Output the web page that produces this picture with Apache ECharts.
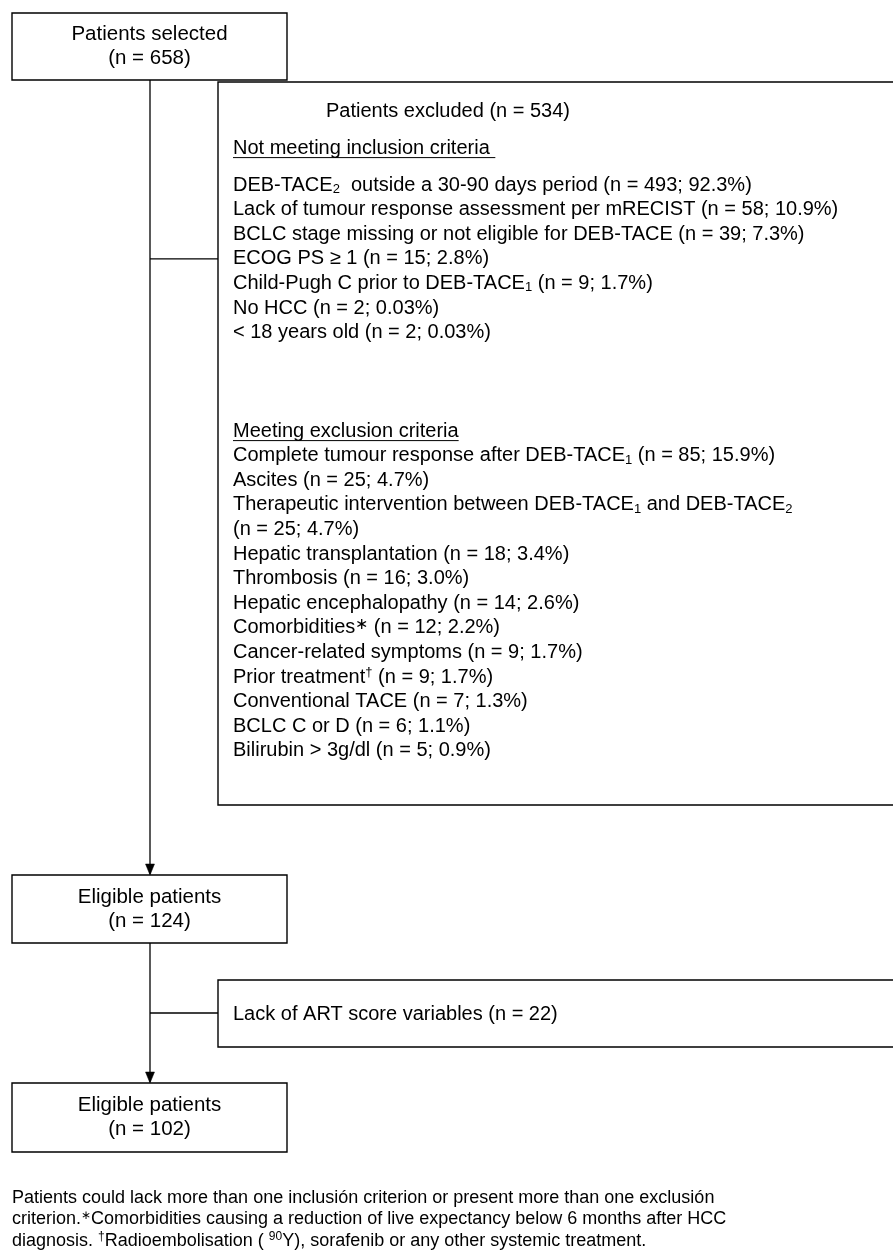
<!DOCTYPE html>
<html><head><meta charset="utf-8">
<script src="https://cdn.jsdelivr.net/npm/echarts@6/dist/echarts.min.js"></script>
<style>html,body{margin:0;padding:0;background:#fff}#c{width:893px;height:1252px}</style>
</head><body><div id="c"></div>
<script>
// ---------------- data ----------------
const stageTitles = ['Patients selected', 'Eligible patients', 'Eligible patients'];
const stageCounts = [658, 124, 102];
const excludedTitle = 'Patients excluded';
const excludedTotal = 534;
const inclusionHeading = 'Not meeting inclusion criteria';
const inclusionLabels = [
  'DEB-TACE{sub|2}  outside a 30-90 days period',
  'Lack of tumour response assessment per mRECIST',
  'BCLC stage missing or not eligible for DEB-TACE',
  'ECOG PS \u2265 1',
  'Child-Pugh C prior to DEB-TACE{sub|1}',
  'No HCC',
  '< 18 years old'
];
const inclusionN = [493, 58, 39, 15, 9, 2, 2];
const inclusionPct = [92.3, 10.9, 7.3, 2.8, 1.7, 0.03, 0.03];
const exclusionHeading = 'Meeting exclusion criteria';
const exclusionLabels = [
  'Complete tumour response after DEB-TACE{sub|1}',
  'Ascites',
  'Therapeutic intervention between DEB-TACE{sub|1} and DEB-TACE{sub|2}\n',
  'Hepatic transplantation',
  'Thrombosis',
  'Hepatic encephalopathy',
  'Comorbidities{ast|\u2217}',
  'Cancer-related symptoms',
  'Prior treatment{sup|\u2020}',
  'Conventional TACE',
  'BCLC C or D',
  'Bilirubin > 3g/dl'
];
const exclusionN = [85, 25, 25, 18, 16, 14, 12, 9, 9, 7, 6, 5];
const exclusionPct = [15.9, 4.7, 4.7, 3.4, 3.0, 2.6, 2.2, 1.7, 1.7, 1.3, 1.1, 0.9];
const scoreExclLabel = 'Lack of ART score variables';
const scoreExclN = 22;
const footnoteLines = [
  'Patients could lack more than one inclusi\u00f3n criterion or present more than one exclusi\u00f3n',
  'criterion.{sup|\u2217}Comorbidities causing a reduction of live expectancy below 6 months after HCC',
  'diagnosis. {sup|\u2020}Radioembolisation ( {sup|90}Y), sorafenib or any other systemic treatment.'
];

// ---------------- layout ----------------
const L = {
  W: 893, H: 1252,
  trunkX: 150, branchX: 218, stageLeft: 12, stageRight: 287,
  stages: [{top: 13, bottom: 80}, {top: 875, bottom: 943}, {top: 1083, bottom: 1152}],
  stageLineGap: 24,
  exclBox: {top: 82, bottom: 805, right: 905}, exclJoinRow: 3,
  artBox: {top: 980, bottom: 1047, right: 905}, artJoinY: 1013,
  textX: 233, titleX: 448, titleY: 111, headIncY: 148, incY0: 185, step: 24.6, headExcY: 431,
  footX: 12, footY0: 1198, footStep: 21.5
};
const FONT = '"Liberation Sans", Arial, Helvetica, sans-serif';
const listSize = 20, boxSize = 20.5, footSize = 18;

function fmtPct(p) { return p < 0.1 ? p.toFixed(2) : p.toFixed(1); }
function countStr(n, p) { return '(n = ' + n + '; ' + fmtPct(p) + '%)'; }

function measure(txt, size) {
  const c = document.createElement('canvas').getContext('2d');
  c.font = size + 'px ' + FONT;
  return c.measureText(txt).width;
}

// ---------------- build element specs ----------------
const specs = [];
L.stages.forEach((s, i) => {
  specs.push({kind: 'rect', x0: L.stageLeft, y0: s.top, x1: L.stageRight, y1: s.bottom});
  const cy = (s.top + s.bottom) / 2;
  const cx = (L.stageLeft + L.stageRight) / 2;
  specs.push({kind: 'text', x: cx, y: cy - L.stageLineGap / 2, text: stageTitles[i], size: boxSize, align: 'center'});
  specs.push({kind: 'text', x: cx, y: cy + L.stageLineGap / 2, text: '(n = ' + stageCounts[i] + ')', size: boxSize, align: 'center'});
});
specs.push({kind: 'rect', x0: L.branchX, y0: L.exclBox.top, x1: L.exclBox.right, y1: L.exclBox.bottom});
specs.push({kind: 'rect', x0: L.branchX, y0: L.artBox.top, x1: L.artBox.right, y1: L.artBox.bottom});
const exclJoinY = L.incY0 + L.exclJoinRow * L.step;
specs.push({kind: 'line', x1: L.trunkX, y1: L.stages[0].bottom, x2: L.trunkX, y2: L.stages[1].top - 1});
specs.push({kind: 'line', x1: L.trunkX, y1: L.stages[1].bottom, x2: L.trunkX, y2: L.stages[2].top - 1});
specs.push({kind: 'line', x1: L.trunkX, y1: exclJoinY, x2: L.branchX, y2: exclJoinY});
specs.push({kind: 'line', x1: L.trunkX, y1: L.artJoinY, x2: L.branchX, y2: L.artJoinY});
specs.push({kind: 'arrow', x: L.trunkX, y: L.stages[1].top});
specs.push({kind: 'arrow', x: L.trunkX, y: L.stages[2].top});
specs.push({kind: 'text', x: L.titleX, y: L.titleY, text: excludedTitle + ' (n = ' + excludedTotal + ')', size: listSize, align: 'center'});
specs.push({kind: 'text', x: L.textX, y: L.headIncY, text: inclusionHeading, size: listSize, align: 'left', underline: inclusionHeading + ' '});
inclusionLabels.forEach((lab, i) => {
  specs.push({kind: 'text', x: L.textX, y: L.incY0 + i * L.step, text: lab + ' ' + countStr(inclusionN[i], inclusionPct[i]), size: listSize, align: 'left'});
});
specs.push({kind: 'text', x: L.textX, y: L.headExcY, text: exclusionHeading, size: listSize, align: 'left', underline: exclusionHeading});
let row = 1;
exclusionLabels.forEach((lab, i) => {
  const y = L.headExcY + row * L.step;
  if (lab.endsWith('\n')) {
    specs.push({kind: 'text', x: L.textX, y: y, text: lab.slice(0, -1), size: listSize, align: 'left'});
    row++;
    specs.push({kind: 'text', x: L.textX, y: L.headExcY + row * L.step, text: countStr(exclusionN[i], exclusionPct[i]), size: listSize, align: 'left'});
  } else {
    specs.push({kind: 'text', x: L.textX, y: y, text: lab + ' ' + countStr(exclusionN[i], exclusionPct[i]), size: listSize, align: 'left'});
  }
  row++;
});
specs.push({kind: 'text', x: L.textX, y: L.artJoinY + 1, text: scoreExclLabel + ' (n = ' + scoreExclN + ')', size: listSize, align: 'left'});
footnoteLines.forEach((t, i) => {
  specs.push({kind: 'text', x: L.footX, y: L.footY0 + i * L.footStep, text: t, size: footSize, align: 'left'});
});

function richFor(size) {
  const lh = Math.round(size * 1.1);
  const small = Math.round(size * 0.66);
  const ast = Math.round(size * 0.8);
  return {
    lh: lh,
    rich: {
      sub: {fontSize: small, fontFamily: FONT, fill: '#000', verticalAlign: 'bottom', lineHeight: small},
      sup: {fontSize: small, fontFamily: FONT, fill: '#000', verticalAlign: 'top', lineHeight: small},
      ast: {fontSize: ast, fontFamily: FONT, fill: '#000', verticalAlign: 'top', lineHeight: ast}
    }
  };
}

function renderItem(params, api) {
  const s = specs[params.dataIndex];
  const P = (x, y) => api.coord([x, y]);
  if (s.kind === 'rect') {
    const a = P(s.x0, s.y0), b = P(s.x1, s.y1);
    return {type: 'rect', shape: {x: a[0], y: a[1], width: b[0] - a[0], height: b[1] - a[1]},
      style: {fill: 'none', stroke: '#000', lineWidth: 1.4}};
  }
  if (s.kind === 'line') {
    const a = P(s.x1, s.y1), b = P(s.x2, s.y2);
    return {type: 'line', shape: {x1: a[0], y1: a[1], x2: b[0], y2: b[1]}, style: {stroke: '#000', lineWidth: 1.3}};
  }
  if (s.kind === 'arrow') {
    const t = P(s.x, s.y);
    return {type: 'polygon', shape: {points: [[t[0], t[1]], [t[0] - 4.5, t[1] - 11], [t[0] + 4.5, t[1] - 11]]},
      style: {fill: '#000', stroke: '#000', lineWidth: 0.5}};
  }
  if (s.kind === 'text') {
    const a = P(s.x, s.y);
    const r = richFor(s.size);
    const children = [{type: 'text', x: a[0], y: a[1],
      style: {text: s.text, fill: '#000', fontSize: s.size, fontFamily: FONT, lineHeight: r.lh,
        align: s.align, verticalAlign: 'middle', rich: r.rich}}];
    if (s.underline) {
      const w = measure(s.underline, s.size);
      const uy = a[1] + s.size * 0.48;
      children.push({type: 'line', shape: {x1: a[0], y1: uy, x2: a[0] + w, y2: uy}, style: {stroke: '#000', lineWidth: 1}});
    }
    return {type: 'group', children: children};
  }
  return null;
}

const chart = echarts.init(document.getElementById('c'), null, {renderer: 'canvas'});
chart.setOption({
  animation: false,
  backgroundColor: '#fff',
  grid: {left: 0, right: 0, top: 0, bottom: 0},
  xAxis: {type: 'value', min: 0, max: L.W, show: false},
  yAxis: {type: 'value', min: 0, max: L.H, inverse: true, show: false},
  series: [{
    type: 'custom',
    coordinateSystem: 'cartesian2d',
    renderItem: renderItem,
    clip: false,
    silent: true,
    data: specs.map((s, i) => [i, 0])
  }]
});
</script>
</body></html>
